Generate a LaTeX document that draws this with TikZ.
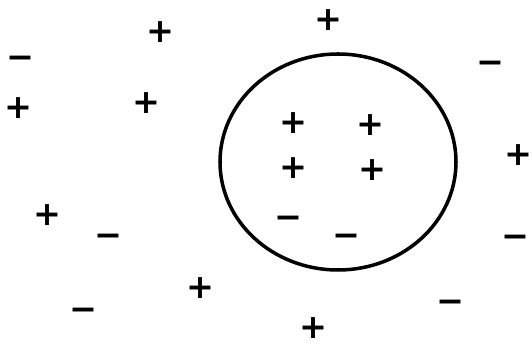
\documentclass[tikz,border=0pt]{standalone}
\usepackage{fontspec}
\newfontfamily\signfont{DejaVu Sans}

\tikzset{
  plussign/.style={font=\signfont\bfseries\fontsize{19}{19}\selectfont, inner sep=0pt},
  minussign/.style={font=\signfont\bfseries\fontsize{19}{19}\selectfont, inner sep=0pt, yshift=-2.5pt}
}

\begin{document}
\begin{tikzpicture}[x=0.02cm,y=-0.02cm]
\useasboundingbox (0,0) rectangle (532,347);

% outside
\node[minussign] (n1) at (20,58) {−};
\node[plussign] (p1) at (160,32) {+};
\node[plussign] (p2) at (328,20) {+};
\node[minussign] (n2) at (490,63) {−};
\node[plussign] (p3) at (18,108) {+};
\node[plussign] (p4) at (146,103) {+};
\node[plussign] (p5) at (518,155) {+};
\node[plussign] (p6) at (47,215) {+};
\node[minussign] (n3) at (108,236) {−};
\node[minussign] (n4) at (515,237) {−};
\node[plussign] (p7) at (200,288) {+};
\node[minussign] (n5) at (83,310) {−};
\node[minussign] (n6) at (450,302) {−};
\node[plussign] (p8) at (313,328) {+};

% the circle
\draw[line width=2pt] (338,162) ellipse [x radius=118, y radius=108];

% inside
\node[plussign] (q1) at (293,123) {+};
\node[plussign] (q2) at (370,125) {+};
\node[plussign] (q3) at (293,168) {+};
\node[plussign] (q4) at (372,170) {+};
\node[minussign] (m1) at (288,218) {−};
\node[minussign] (m2) at (346,236) {−};
\end{tikzpicture}
\end{document}
